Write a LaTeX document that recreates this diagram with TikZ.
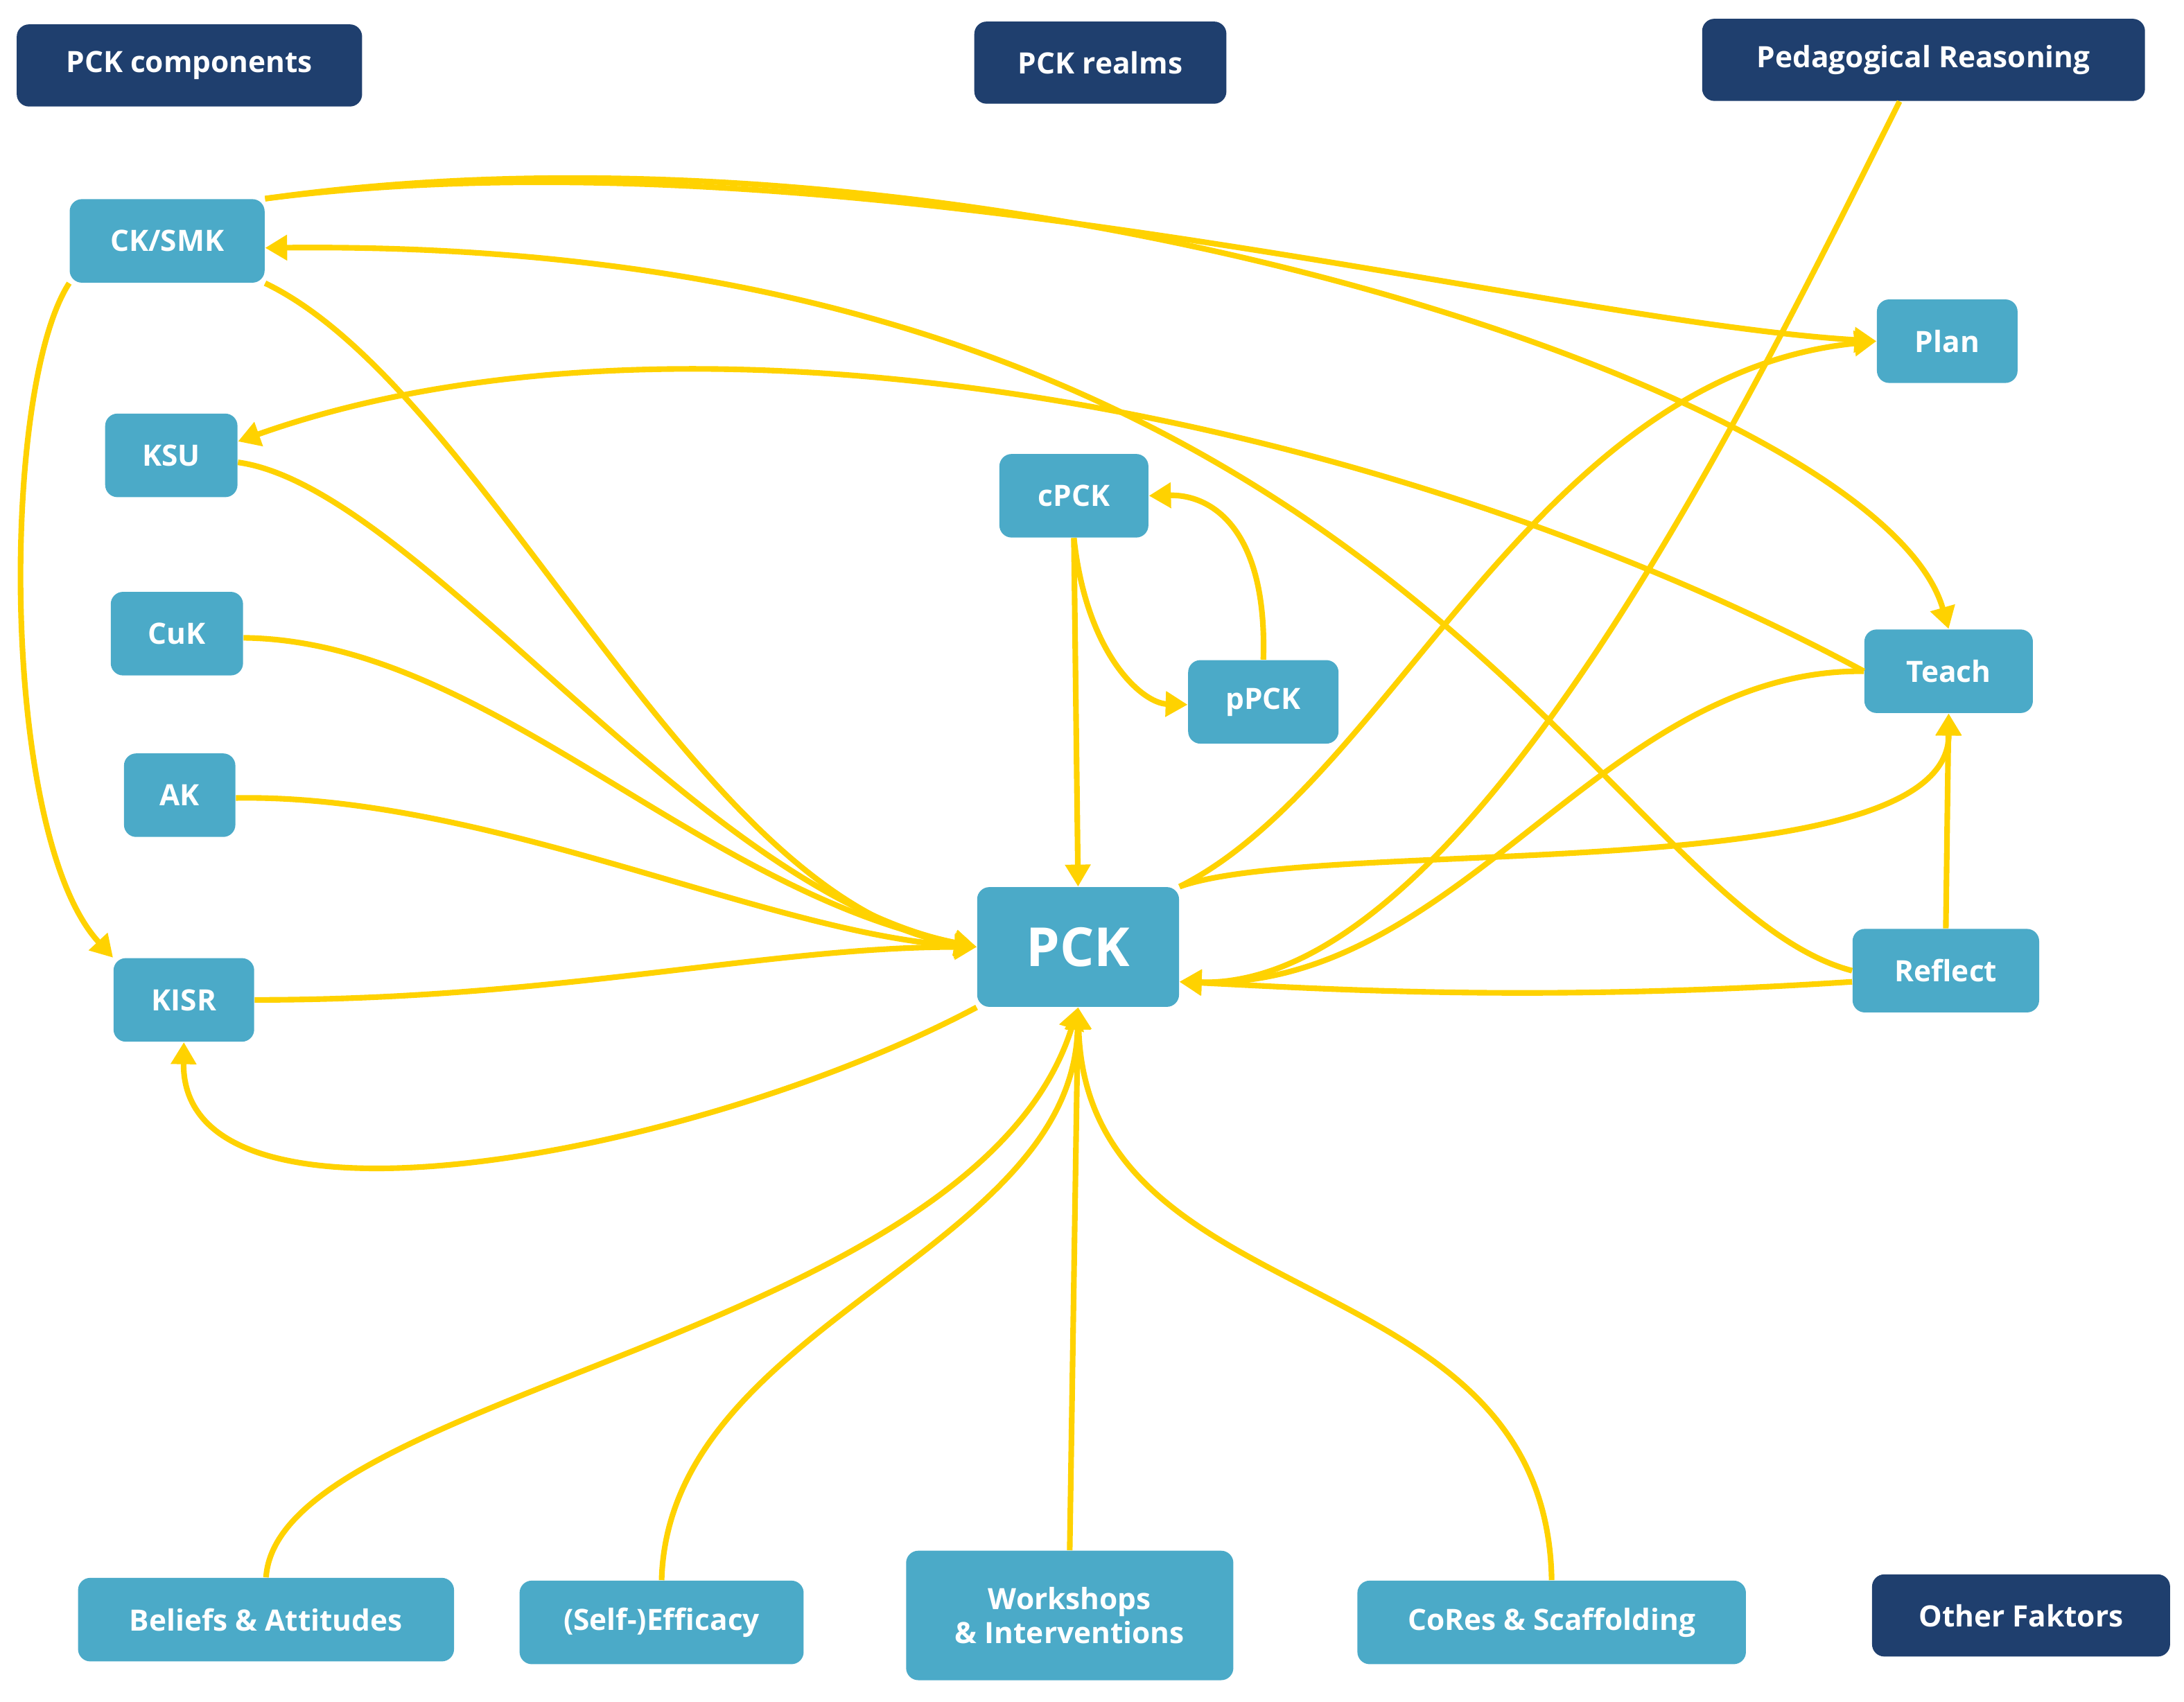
\documentclass[tikz,border=0pt]{standalone}
\usepackage{fontspec}
\setmainfont{Open Sans}
\usetikzlibrary{arrows.meta}
\definecolor{navy}{HTML}{1F3F6E}
\definecolor{lb}{HTML}{4BAAC8}
\definecolor{yl}{HTML}{FFD200}
\begin{document}
\begin{tikzpicture}[x=0.02cm,y=-0.02cm,
 dk/.style={fill=navy,rounded corners=5pt,text=white,font=\bfseries\fontsize{12}{14}\selectfont,minimum height=1.18cm,inner sep=2pt},
 lt/.style={fill=lb,rounded corners=5pt,text=white,font=\bfseries\fontsize{12}{14}\selectfont,minimum height=1.2cm,inner sep=2pt,align=center},
 arr/.style={draw=yl,line width=2.3pt,-{Triangle[length=9pt,width=10pt]}},
 ln/.style={draw=yl,line width=2.3pt}]
\useasboundingbox (0,0) rectangle (1568,1222);
\node[dk,minimum width=4.96cm] (pc) at (136,47) {PCK components};
\node[dk,minimum width=3.62cm] (pr) at (790,45) {PCK realms};
\node[dk,minimum width=6.36cm] (ped) at (1381,43) {Pedagogical Reasoning};
\node[dk,minimum width=4.28cm] (of) at (1451,1160) {Other Faktors};
\node[lt,minimum width=2.8cm] (ck) at (120,173) {CK/SMK};
\node[lt,minimum width=1.9cm] (ksu) at (123,327) {KSU};
\node[lt,minimum width=1.9cm] (cuk) at (127,455) {CuK};
\node[lt,minimum width=1.6cm] (ak) at (129,571) {AK};
\node[lt,minimum width=2.02cm] (kisr) at (132,718) {KISR};
\node[lt,minimum width=2.14cm] (cpck) at (771,356) {cPCK};
\node[lt,minimum width=2.16cm] (ppck) at (907,504) {pPCK};
\node[lt,minimum width=2.9cm,minimum height=1.72cm,font=\bfseries\fontsize{22}{24}\selectfont] (pck) at (774,680) {PCK};
\node[lt,minimum width=2.02cm] (plan) at (1398,245) {Plan};
\node[lt,minimum width=2.42cm] (teach) at (1399,482) {Teach};
\node[lt,minimum width=2.68cm] (refl) at (1397,697) {Reflect};
\node[lt,minimum width=5.4cm] (bel) at (191,1163) {Beliefs \& Attitudes};
\node[lt,minimum width=4.08cm] (eff) at (475,1165) {(Self-)Efficacy};
\node[lt,minimum width=4.7cm,minimum height=1.86cm] (ws) at (768,1160) {Workshops\\\& Interventions};
\node[lt,minimum width=5.58cm] (cor) at (1114,1165) {CoRes \& Scaffolding};
% edges
\draw[arr] (ck.north east) .. controls (600,90) and (1100,230) .. (plan.west);
\draw[arr] (ck.north east) .. controls (700,70) and (1350,280) .. (teach.north);
\draw[arr] (refl.west) .. controls (1150,650) and (1000,170) .. ([yshift=-0.1cm]ck.east);
\draw[arr] (ck.south east) .. controls (350,280) and (500,650) .. (pck.west);
\draw[arr] (ck.south west) .. controls (0,280) and (0,600) .. (kisr.north west);
\draw[arr] (teach.west) .. controls (1000,300) and (500,200) .. ([yshift=0.2cm]ksu.east);
\draw[arr] ([yshift=-0.1cm]ksu.east) .. controls (300,350) and (500,640) .. (pck.west);
\draw[arr] ([yshift=-0.06cm]cuk.east) .. controls (350,460) and (500,640) .. (pck.west);
\draw[arr] ([yshift=-0.04cm]ak.east) .. controls (350,570) and (550,670) .. (pck.west);
\draw[arr] (kisr.east) .. controls (400,718) and (550,680) .. (pck.west);
\draw[arr] (pck.south west) .. controls (500,830) and (130,900) .. (kisr.south);
\draw[arr] (cpck.south) -- (pck.north);
\draw[arr] (cpck.south) .. controls (780,470) and (820,505) .. ([yshift=-0.04cm]ppck.west);
\draw[arr] (ppck.north) .. controls (910,380) and (870,355) .. (cpck.east);
\draw[arr] (pck.north east) .. controls (1000,560) and (1100,270) .. (plan.west);
\draw[arr] (ped.-120) .. controls (1250,300) and (1050,710) .. ([yshift=-0.5cm]pck.east);
\draw[arr] (teach.west) .. controls (1150,480) and (1050,710) .. ([yshift=-0.5cm]pck.east);
\draw[arr] (pck.north east) .. controls (950,600) and (1400,640) .. (teach.south);
\draw[arr] (refl.north) -- (teach.south);
\draw[arr] ([yshift=-0.16cm]refl.west) .. controls (1100,720) and (950,710) .. ([yshift=-0.5cm]pck.east);
\draw[arr] (bel.north) .. controls (200,1000) and (700,960) .. (pck.south);
\draw[arr] (eff.north) .. controls (480,950) and (770,900) .. (pck.south);
\draw[arr] (ws.north) -- (pck.south);
\draw[arr] (cor.north) .. controls (1110,900) and (780,950) .. (pck.south);
\end{tikzpicture}
\end{document}
